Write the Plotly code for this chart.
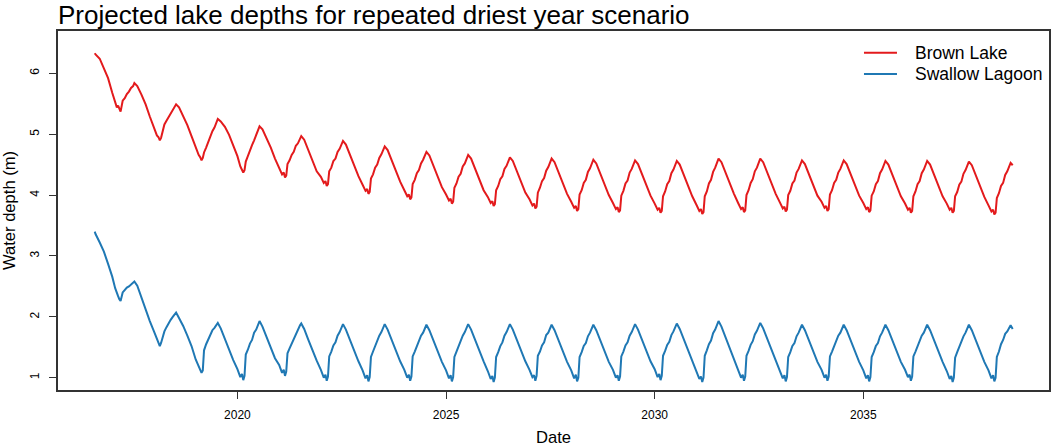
import plotly.graph_objects as go

# ---- data ----
# Sampling positions within each calendar year (fraction of year)
year_fractions = [0.00, 0.07, 0.11, 0.14, 0.17, 0.20, 0.25, 0.30, 0.35,
                  0.40, 0.45, 0.50, 0.53, 0.60, 0.70, 0.80, 0.90]
start_times = [2016.58, 2016.60, 2016.70, 2016.80, 2016.90]
full_years = list(range(2017, 2038))
last_year = 2038
end_time = 2038.58

brown_lake = [
    # 2016
    6.33, 6.31, 6.24, 6.09, 5.92,
    # 2017
    5.68, 5.52, 5.44, 5.47, 5.41, 5.37, 5.55, 5.59, 5.66, 5.70, 5.76, 5.79, 5.84, 5.79, 5.65, 5.49, 5.29,
    # 2018
    5.10, 4.98, 4.95, 4.90, 4.94, 5.02, 5.16, 5.22, 5.28, 5.34, 5.39, 5.45, 5.49, 5.44, 5.30, 5.15, 4.97,
    # 2019
    4.78, 4.66, 4.62, 4.57, 4.61, 4.70, 4.78, 4.88, 4.95, 5.05, 5.11, 5.21, 5.25, 5.21, 5.12, 4.99, 4.82,
    # 2020
    4.64, 4.47, 4.42, 4.37, 4.41, 4.55, 4.64, 4.74, 4.82, 4.90, 4.98, 5.08, 5.13, 5.08, 4.94, 4.78, 4.60,
    # 2021
    4.44, 4.34, 4.37, 4.29, 4.32, 4.51, 4.57, 4.66, 4.71, 4.81, 4.85, 4.94, 4.97, 4.91, 4.73, 4.55, 4.39,
    # 2022
    4.30, 4.20, 4.23, 4.15, 4.18, 4.39, 4.45, 4.56, 4.60, 4.71, 4.76, 4.85, 4.89, 4.83, 4.65, 4.47, 4.31,
    # 2023
    4.17, 4.07, 4.10, 4.02, 4.05, 4.27, 4.34, 4.45, 4.50, 4.61, 4.67, 4.76, 4.80, 4.74, 4.56, 4.38, 4.22,
    # 2024
    4.08, 3.98, 4.01, 3.93, 3.96, 4.18, 4.25, 4.36, 4.41, 4.52, 4.58, 4.67, 4.71, 4.65, 4.47, 4.29, 4.13,
    # 2025
    4.01, 3.91, 3.94, 3.86, 3.89, 4.12, 4.19, 4.30, 4.35, 4.47, 4.52, 4.62, 4.66, 4.60, 4.42, 4.24, 4.08,
    # 2026
    3.97, 3.87, 3.90, 3.82, 3.85, 4.08, 4.15, 4.26, 4.31, 4.43, 4.48, 4.58, 4.62, 4.56, 4.38, 4.20, 4.04,
    # 2027
    3.93, 3.83, 3.86, 3.78, 3.81, 4.04, 4.12, 4.23, 4.28, 4.40, 4.46, 4.56, 4.60, 4.54, 4.36, 4.18, 4.02,
    # 2028
    3.89, 3.79, 3.82, 3.74, 3.77, 4.01, 4.08, 4.20, 4.25, 4.38, 4.44, 4.54, 4.58, 4.52, 4.34, 4.16, 4.00,
    # 2029
    3.87, 3.77, 3.80, 3.72, 3.75, 3.99, 4.07, 4.19, 4.24, 4.37, 4.43, 4.53, 4.57, 4.51, 4.33, 4.15, 3.99,
    # 2030
    3.86, 3.76, 3.79, 3.71, 3.74, 3.98, 4.06, 4.18, 4.23, 4.36, 4.42, 4.52, 4.56, 4.50, 4.32, 4.14, 3.98,
    # 2031
    3.84, 3.74, 3.77, 3.69, 3.72, 3.98, 4.06, 4.19, 4.25, 4.38, 4.45, 4.56, 4.60, 4.54, 4.36, 4.18, 4.02,
    # 2032
    3.87, 3.77, 3.80, 3.72, 3.75, 4.00, 4.08, 4.20, 4.26, 4.39, 4.45, 4.56, 4.60, 4.54, 4.36, 4.18, 4.02,
    # 2033
    3.88, 3.78, 3.81, 3.73, 3.76, 4.00, 4.07, 4.19, 4.24, 4.37, 4.43, 4.53, 4.57, 4.51, 4.33, 4.15, 3.99,
    # 2034
    3.89, 3.79, 3.82, 3.74, 3.77, 4.01, 4.08, 4.20, 4.25, 4.37, 4.43, 4.53, 4.57, 4.51, 4.33, 4.15, 3.99,
    # 2035
    3.87, 3.77, 3.80, 3.72, 3.75, 3.99, 4.06, 4.18, 4.23, 4.36, 4.42, 4.52, 4.56, 4.50, 4.32, 4.14, 3.98,
    # 2036
    3.86, 3.76, 3.79, 3.71, 3.74, 3.98, 4.06, 4.18, 4.23, 4.36, 4.42, 4.52, 4.56, 4.50, 4.32, 4.14, 3.98,
    # 2037
    3.86, 3.76, 3.79, 3.71, 3.74, 3.98, 4.05, 4.17, 4.22, 4.35, 4.41, 4.51, 4.55, 4.49, 4.31, 4.13, 3.97,
    # 2038 (partial)
    3.83, 3.73, 3.76, 3.68, 3.71, 3.95, 4.03, 4.15, 4.20, 4.33, 4.39, 4.49, 4.53,
    4.49,
]

swallow_lagoon = [
    # 2016
    3.40, 3.36, 3.22, 3.07, 2.87,
    # 2017
    2.66, 2.47, 2.38, 2.34, 2.29, 2.26, 2.40, 2.45, 2.48, 2.50, 2.53, 2.55, 2.58, 2.51, 2.31, 2.11, 1.93,
    # 2018
    1.76, 1.63, 1.57, 1.52, 1.57, 1.64, 1.76, 1.83, 1.90, 1.95, 2.00, 2.05, 2.07, 1.98, 1.85, 1.69, 1.52,
    # 2019
    1.30, 1.18, 1.14, 1.08, 1.12, 1.45, 1.55, 1.63, 1.69, 1.78, 1.82, 1.88, 1.90, 1.81, 1.63, 1.45, 1.29,
    # 2020
    1.14, 1.01, 1.06, 0.96, 1.03, 1.38, 1.46, 1.56, 1.62, 1.74, 1.79, 1.89, 1.93, 1.84, 1.66, 1.48, 1.32,
    # 2021
    1.21, 1.08, 1.13, 1.03, 1.10, 1.40, 1.48, 1.56, 1.62, 1.72, 1.77, 1.86, 1.89, 1.80, 1.62, 1.44, 1.28,
    # 2022
    1.13, 1.00, 1.05, 0.95, 1.02, 1.35, 1.43, 1.53, 1.58, 1.69, 1.75, 1.84, 1.88, 1.79, 1.61, 1.43, 1.27,
    # 2023
    1.12, 0.99, 1.04, 0.94, 1.01, 1.34, 1.43, 1.52, 1.58, 1.69, 1.75, 1.84, 1.88, 1.79, 1.61, 1.43, 1.27,
    # 2024
    1.13, 1.00, 1.05, 0.95, 1.02, 1.35, 1.43, 1.52, 1.58, 1.69, 1.74, 1.83, 1.87, 1.78, 1.60, 1.42, 1.26,
    # 2025
    1.12, 0.99, 1.04, 0.94, 1.01, 1.34, 1.43, 1.52, 1.58, 1.69, 1.75, 1.84, 1.88, 1.79, 1.61, 1.43, 1.27,
    # 2026
    1.11, 0.98, 1.03, 0.93, 1.00, 1.34, 1.42, 1.52, 1.58, 1.69, 1.75, 1.84, 1.88, 1.79, 1.61, 1.43, 1.27,
    # 2027
    1.13, 1.01, 1.04, 0.95, 1.03, 1.36, 1.43, 1.53, 1.58, 1.70, 1.74, 1.83, 1.87, 1.78, 1.60, 1.42, 1.26,
    # 2028
    1.12, 0.99, 1.05, 0.94, 1.00, 1.34, 1.42, 1.52, 1.57, 1.68, 1.74, 1.83, 1.87, 1.78, 1.60, 1.42, 1.26,
    # 2029
    1.13, 1.00, 1.04, 0.95, 1.02, 1.35, 1.43, 1.53, 1.58, 1.69, 1.75, 1.84, 1.88, 1.79, 1.61, 1.43, 1.27,
    # 2030
    1.14, 1.01, 1.06, 0.96, 1.03, 1.36, 1.44, 1.54, 1.59, 1.70, 1.76, 1.85, 1.89, 1.80, 1.62, 1.44, 1.28,
    # 2031
    1.11, 0.98, 1.02, 0.93, 1.00, 1.36, 1.45, 1.55, 1.61, 1.73, 1.79, 1.89, 1.93, 1.84, 1.66, 1.48, 1.32,
    # 2032
    1.13, 1.00, 1.05, 0.95, 1.02, 1.36, 1.44, 1.54, 1.60, 1.71, 1.77, 1.86, 1.90, 1.81, 1.63, 1.45, 1.29,
    # 2033
    1.12, 0.99, 1.04, 0.94, 1.01, 1.34, 1.42, 1.52, 1.57, 1.68, 1.74, 1.83, 1.87, 1.78, 1.60, 1.42, 1.26,
    # 2034
    1.13, 1.00, 1.05, 0.95, 1.02, 1.35, 1.43, 1.52, 1.58, 1.69, 1.74, 1.83, 1.87, 1.78, 1.60, 1.42, 1.26,
    # 2035
    1.12, 0.99, 1.04, 0.94, 1.01, 1.34, 1.42, 1.52, 1.57, 1.68, 1.74, 1.83, 1.87, 1.78, 1.60, 1.42, 1.26,
    # 2036
    1.13, 1.01, 1.05, 0.95, 1.02, 1.35, 1.43, 1.52, 1.58, 1.69, 1.74, 1.83, 1.87, 1.78, 1.60, 1.42, 1.26,
    # 2037
    1.11, 0.98, 1.03, 0.93, 1.00, 1.33, 1.42, 1.51, 1.57, 1.68, 1.74, 1.83, 1.87, 1.78, 1.60, 1.42, 1.26,
    # 2038 (partial)
    1.12, 0.99, 1.04, 0.94, 1.00, 1.34, 1.43, 1.55, 1.62, 1.72, 1.76, 1.83, 1.86,
    1.80,
]

series_names = ["Brown Lake", "Swallow Lagoon"]
series_colors = ["#E31A1C", "#1F78B4"]

x_tick_values = [2020, 2025, 2030, 2035]
x_tick_labels = ["2020", "2025", "2030", "2035"]
y_tick_values = [1, 2, 3, 4, 5, 6]
y_tick_labels = ["1", "2", "3", "4", "5", "6"]

# ---- time axis (decimal years) ----
times = list(start_times)
for yr in full_years:
    times += [round(yr + f, 2) for f in year_fractions]
times += [round(last_year + f, 2) for f in year_fractions[:13]]
times.append(end_time)

FONT = "Liberation Sans, Arial, Helvetica, sans-serif"
AXIS_COLOR = "#333333"

fig = go.Figure()
for name, vals, col in zip(series_names, [brown_lake, swallow_lagoon], series_colors):
    fig.add_trace(go.Scatter(x=times, y=vals, mode="lines", name=name,
                             line=dict(color=col, width=2), showlegend=False))

# legend drawn R-style (no box), top-right inside the plot
legend_rows_y = [0.9396, 0.8802]
for name, col, ly in zip(series_names, series_colors, legend_rows_y):
    fig.add_shape(type="line", xref="paper", yref="paper",
                  x0=0.8133, x1=0.8466, y0=ly, y1=ly,
                  line=dict(color=col, width=2))
    fig.add_annotation(text=name, xref="paper", yref="paper", x=0.8628, y=ly,
                       xanchor="left", yanchor="middle", showarrow=False,
                       font=dict(size=17.5, family=FONT, color="black"))

fig.update_layout(
    width=1052, height=447,
    margin=dict(l=58, r=3, t=31, b=57, autoexpand=False),
    paper_bgcolor="white", plot_bgcolor="white",
    font=dict(family=FONT, color="black"),
    title=dict(text="Projected lake depths for repeated driest year scenario",
               x=58 / 1052, xanchor="left", xref="container",
               y=1 - 15 / 447, yanchor="middle", yref="container",
               font=dict(size=26, color="black", family=FONT)),
    showlegend=False,
    xaxis=dict(range=[2015.70, 2039.45], tickmode="array",
               tickvals=x_tick_values, ticktext=x_tick_labels,
               showgrid=False, zeroline=False, automargin=False,
               showline=True, linecolor=AXIS_COLOR, linewidth=1.5, mirror=True,
               ticks="outside", ticklen=7, tickwidth=1, tickcolor=AXIS_COLOR,
               tickfont=dict(size=12, family=FONT, color="black"),
               ticklabelstandoff=6,
               title=dict(text="Date", font=dict(size=16.6, family=FONT, color="black"),
                          standoff=12)),
    yaxis=dict(range=[0.798, 6.695], tickmode="array",
               tickvals=y_tick_values, ticktext=y_tick_labels,
               showgrid=False, zeroline=False, automargin=False,
               showline=True, linecolor=AXIS_COLOR, linewidth=1.5, mirror=True,
               ticks="outside", ticklen=7, tickwidth=1, tickcolor=AXIS_COLOR,
               tickangle=-90,
               tickfont=dict(size=12, family=FONT, color="black"),
               ticklabelstandoff=5,
               title=dict(text="Water depth (m)", font=dict(size=16.6, family=FONT, color="black"),
                          standoff=16)),
)

fig.write_html("out.html", config={"displayModeBar": False},
               post_script="document.body.style.margin='0';document.body.style.overflow='hidden';")
